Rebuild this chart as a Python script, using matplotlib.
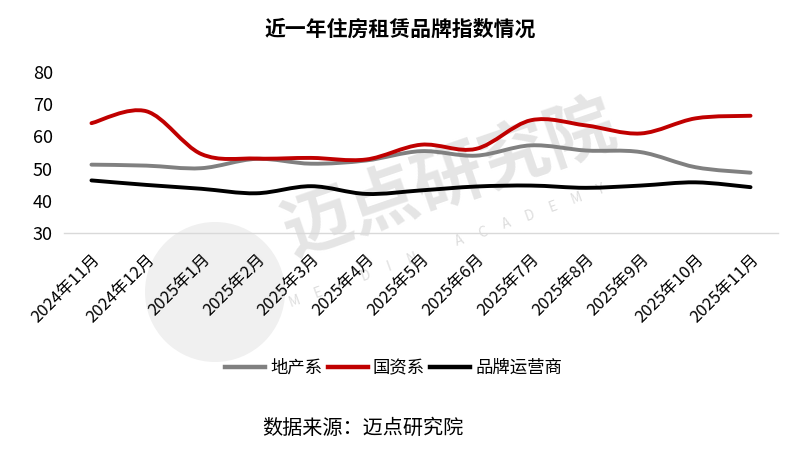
import matplotlib
matplotlib.use("Agg")
import matplotlib.pyplot as plt
import numpy as np
from matplotlib.path import Path
from matplotlib.patches import PathPatch, Ellipse
from matplotlib.lines import Line2D

plt.rcParams["font.family"] = ["Noto Sans CJK SC", "DejaVu Sans"]

# data
months = ["2024年11月", "2024年12月", "2025年1月", "2025年2月", "2025年3月",
          "2025年4月", "2025年5月", "2025年6月", "2025年7月", "2025年8月",
          "2025年9月", "2025年10月", "2025年11月"]
developer = [51.2, 50.9, 50.1, 53.0, 51.5, 52.5, 55.4, 54.0, 57.2, 55.6, 55.1, 50.4, 48.7]
state_owned = [64.1, 67.8, 54.5, 53.1, 53.3, 52.8, 57.4, 56.1, 65.0, 63.4, 60.9, 65.6, 66.4]
brand_operator = [46.3, 44.9, 43.7, 42.3, 44.5, 42.1, 43.2, 44.4, 44.7, 44.0, 44.7, 45.7, 44.2]

series = [
    ("地产系", developer, "#808080"),
    ("国资系", state_owned, "#C00000"),
    ("品牌运营商", brand_operator, "#000000"),
]

W, H = 800, 453


def smooth_path(xs, ys):
    """Excel-like smoothed line: cubic Bezier through each data point."""
    pts = np.column_stack([xs, ys]).astype(float)
    n = len(pts)
    verts = [pts[0]]
    codes = [Path.MOVETO]
    for i in range(n - 1):
        p0 = pts[i - 1] if i > 0 else pts[i]
        p1 = pts[i]
        p2 = pts[i + 1]
        p3 = pts[i + 2] if i + 2 < n else pts[i + 1]
        c1 = p1 + (p2 - p0) / 6.0
        c2 = p2 - (p3 - p1) / 6.0
        verts += [c1, c2, p2]
        codes += [Path.CURVE4] * 3
    return Path(verts, codes)


fig = plt.figure(figsize=(8, 4.53), dpi=100)
ax = fig.add_axes([0.08, 0.486, 0.8925, 0.355])
ax.set_zorder(2)

# watermark (logo circle, name, english name), kept behind the chart
fig.patches.append(Ellipse((215 / W, 1 - 292 / H), 140 / W, 140 / H,
                           transform=fig.transFigure, facecolor="#e6e6e6",
                           edgecolor="none", alpha=0.6, zorder=-1))
fig.text(450 / W, 1 - 180 / H, "迈点研究院", fontsize=50, color="#d4d4d4", alpha=0.6,
         rotation=19, ha="center", va="center", fontweight="bold", zorder=-1)
wm_letters = "MEADIN ACADEMY"
ang = np.deg2rad(20)
for i, ch in enumerate(wm_letters):
    px = 295 + i * 25 * np.cos(ang)
    py = 301 - i * 25 * np.sin(ang)
    fig.text(px / W, 1 - py / H, ch, fontsize=10, color="#cfcfcf", alpha=0.7,
             rotation=20, ha="center", va="center", zorder=-1)

x = np.arange(len(months))
for name, vals, color in series:
    patch = PathPatch(smooth_path(x, vals), facecolor="none", edgecolor=color,
                      linewidth=2.8, capstyle="round", joinstyle="round", zorder=3)
    ax.add_patch(patch)

ax.set_xlim(-0.5, len(months) - 0.5)
ax.set_ylim(30, 80)
ax.set_yticks([30, 40, 50, 60, 70, 80])
ax.set_xticks(x)
ax.set_xticklabels(months, rotation=45, ha="right", rotation_mode="anchor", fontsize=12)
ax.tick_params(axis="y", labelsize=13, length=0, pad=8)
ax.tick_params(axis="x", length=0, pad=13)
for side in ["top", "right", "left"]:
    ax.spines[side].set_visible(False)
ax.spines["bottom"].set_color("#d9d9d9")
ax.spines["bottom"].set_linewidth(1.0)
ax.patch.set_alpha(0)

fig.text(0.5, 0.935, "近一年住房租赁品牌指数情况", fontsize=15, fontweight="bold",
         ha="center", va="center")

handles = [Line2D([0], [0], color=c, linewidth=3.2) for _, _, c in series]
fig.legend(handles, [s[0] for s in series], loc="center", bbox_to_anchor=(0.492, 0.188),
           ncol=3, frameon=False, fontsize=12.5, handlelength=2.3, handletextpad=0.3,
           columnspacing=0.3)

fig.text(0.454, 0.055, "数据来源：迈点研究院", fontsize=14.5, ha="center", va="center")

fig.savefig("out.png", dpi=100)
